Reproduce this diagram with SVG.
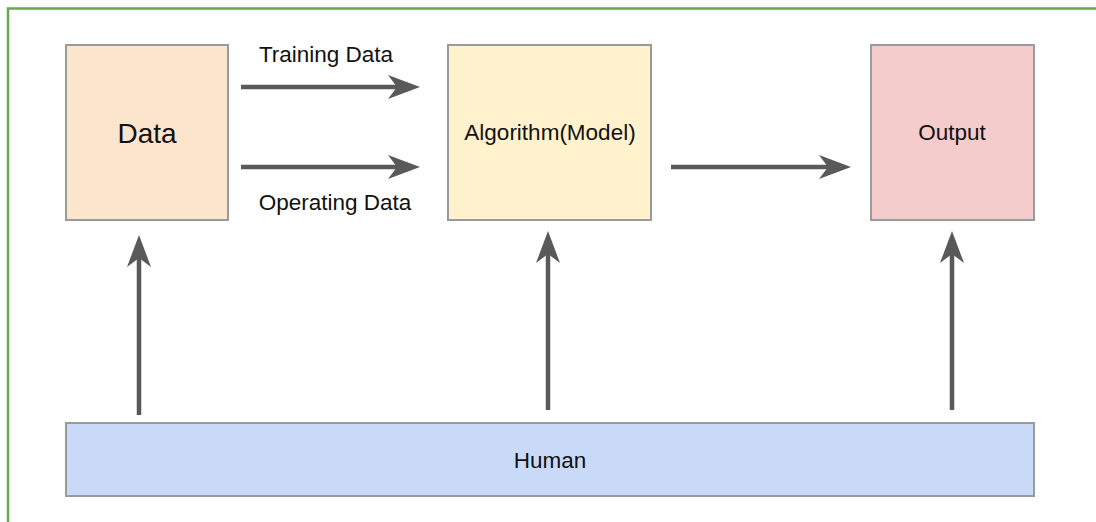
<svg xmlns="http://www.w3.org/2000/svg" width="1096" height="522" viewBox="0 0 1096 522">
  <defs>
    <style>
      .box { stroke: #9a9a9a; stroke-width: 2; }
      .lbl { font-family: "Liberation Sans", Arial, sans-serif; font-size: 22.5px; fill: #111; text-anchor: middle; }
      .edge { stroke: #595959; stroke-width: 4.5; fill: none; marker-end: url(#head); }
    </style>
    <marker id="head" viewBox="0 0 32 24" refX="9" refY="12" markerWidth="32" markerHeight="24" markerUnits="userSpaceOnUse" orient="auto">
      <path d="M0,0 L32,12 L0,24 L9,12 Z" fill="#595959"/>
    </marker>
  </defs>

  <rect fill="#ffffff" x="0" y="0" width="1096" height="522"/>
  <!-- outer frame -->
  <rect x="8" y="8.5" width="1110" height="540" fill="none" stroke="#6aa84f" stroke-width="2.5"/>

  <g id="data">
    <rect class="box" x="66" y="45" width="162" height="175" fill="#fce5cd"/>
    <text class="lbl" x="147" y="143" style="font-size:28px">Data</text>
  </g>
  <g id="algorithm">
    <rect class="box" x="448" y="45" width="203" height="175" fill="#fff2cc"/>
    <text class="lbl" x="550" y="140">Algorithm(Model)</text>
  </g>
  <g id="output">
    <rect class="box" x="871" y="45" width="163" height="175" fill="#f4cccc"/>
    <text class="lbl" x="952" y="140">Output</text>
  </g>
  <g id="human">
    <rect class="box" x="66" y="423" width="968" height="73" fill="#c9daf8"/>
    <text class="lbl" x="550" y="468">Human</text>
  </g>

  <g id="connectors">
    <line class="edge" x1="241" y1="87" x2="397" y2="87"/>
    <text class="lbl" x="326" y="62">Training Data</text>
    <line class="edge" x1="241" y1="167" x2="397" y2="167"/>
    <text class="lbl" x="335" y="210">Operating Data</text>
    <line class="edge" x1="671" y1="167" x2="828" y2="167"/>
    <line class="edge" x1="139" y1="415" x2="139" y2="258"/>
    <line class="edge" x1="548" y1="410" x2="548" y2="254"/>
    <line class="edge" x1="952" y1="410" x2="952" y2="254"/>
  </g>
</svg>
